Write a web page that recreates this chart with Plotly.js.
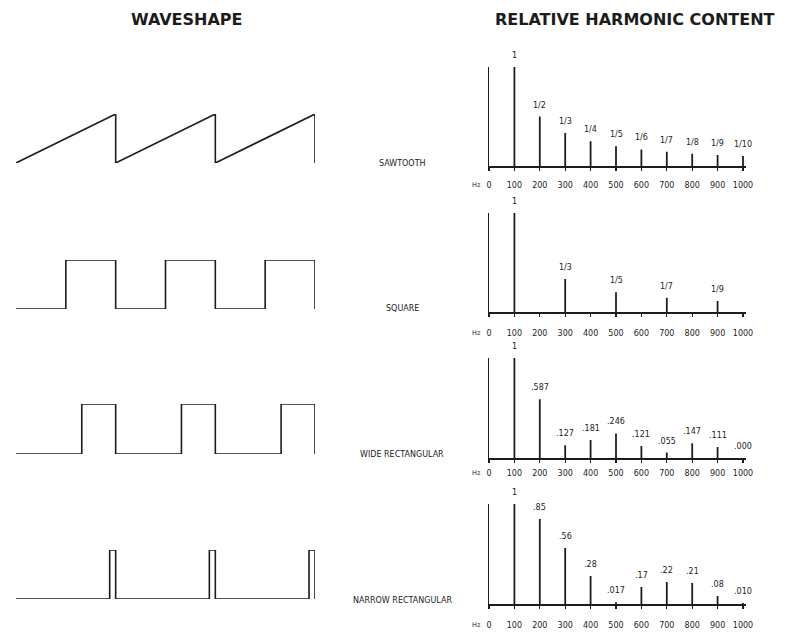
<!DOCTYPE html>
<html>
<head>
<meta charset="utf-8">
<script src="https://cdn.plot.ly/plotly-3.0.1.min.js"></script>
<style>html,body{margin:0;padding:0;background:#fff;}#chart{width:787px;height:632px;}</style>
</head>
<body>
<div id="chart"></div>
<script>
// ---- data ----
const waveNames = ["SAWTOOTH", "SQUARE", "WIDE RECTANGULAR", "NARROW RECTANGULAR"];

const sawT = [0, 1, 1, 2, 2, 3, 3];
const sawY = [0, 1, 0, 1, 0, 1, 0];
const squareT = [0, 0.5, 0.5, 1, 1, 1.5, 1.5, 2, 2, 2.5, 2.5, 3, 3];
const squareY = [0, 0, 1, 1, 0, 0, 1, 1, 0, 0, 1, 1, 0];
const wideT = [0, 0.66, 0.66, 1, 1, 1.66, 1.66, 2, 2, 2.66, 2.66, 3, 3];
const wideY = [0, 0, 1, 1, 0, 0, 1, 1, 0, 0, 1, 1, 0];
const narrowT = [0, 0.94, 0.94, 1, 1, 1.94, 1.94, 2, 2, 2.94, 2.94, 3, 3];
const narrowY = [0, 0, 1, 1, 0, 0, 1, 1, 0, 0, 1, 1, 0];

const harmonicsHz = [100, 200, 300, 400, 500, 600, 700, 800, 900, 1000];
const tickValsHz = [0, 100, 200, 300, 400, 500, 600, 700, 800, 900, 1000];
const tickTextHz = ["0", "100", "200", "300", "400", "500", "600", "700", "800", "900", "1000"];

const sawAmp = [1, 0.5, 0.333, 0.25, 0.2, 0.167, 0.143, 0.125, 0.111, 0.1];
const sawLbl = ["1", "1/2", "1/3", "1/4", "1/5", "1/6", "1/7", "1/8", "1/9", "1/10"];
const squareAmp = [1, 0, 0.333, 0, 0.2, 0, 0.143, 0, 0.111, 0];
const squareLbl = ["1", "", "1/3", "", "1/5", "", "1/7", "", "1/9", ""];
const wideAmp = [1, 0.587, 0.127, 0.181, 0.246, 0.121, 0.055, 0.147, 0.111, 0.000];
const wideLbl = ["1", ".587", ".127", ".181", ".246", ".121", ".055", ".147", ".111", ".000"];
const narrowAmp = [1, 0.85, 0.56, 0.28, 0.017, 0.17, 0.22, 0.21, 0.08, 0.010];
const narrowLbl = ["1", ".85", ".56", ".28", ".017", ".17", ".22", ".21", ".08", ".010"];

// ---- layout helpers ----
const W = 787, H = 632;
const fx = p => p / W;
const fy = p => 1 - p / H;
const INK = "#1c1c1c";
const FONT = "DejaVu Sans, Liberation Sans, Arial, sans-serif";

const waves = [[sawT, sawY], [squareT, squareY], [wideT, wideY], [narrowT, narrowY]];
const spectra = [[sawAmp, sawLbl], [squareAmp, squareLbl], [wideAmp, wideLbl], [narrowAmp, narrowLbl]];

// pixel rows: [top, bottom] for waves and spectra
const waveRows = [[114, 163], [260, 309], [404, 454], [550, 599]];
const specRows = [[67, 166], [213, 312], [358, 458], [504, 604]];
const labelStandoff = [8, 10, 4, 10];
const nameY = [163, 309, 455, 600];

const traces = [];
const layout = {
  width: W, height: H,
  margin: {l: 0, r: 0, t: 0, b: 0},
  paper_bgcolor: "#fff", plot_bgcolor: "#fff",
  showlegend: false,
  font: {family: FONT, color: INK},
  annotations: [],
};

for (let i = 0; i < 4; i++) {
  const wa = 2 * i + 1, sa = 2 * i + 2;
  const wk = wa === 1 ? "" : String(wa);
  const sk = String(sa);
  // waveform
  traces.push({
    type: "scatter", mode: "lines", x: waves[i][0], y: waves[i][1],
    xaxis: "x" + wk, yaxis: "y" + wk, cliponaxis: false,
    line: {color: INK, width: 1.6}, hoverinfo: "skip"
  });
  layout["xaxis" + wk] = {domain: [fx(16), fx(315)], range: [0, 3], visible: false, fixedrange: true, anchor: "y" + wk};
  layout["yaxis" + wk] = {domain: [fy(waveRows[i][1]), fy(waveRows[i][0])], range: [0, 1], visible: false, fixedrange: true, anchor: "x" + wk};
  layout.annotations.push({
    xref: "paper", yref: "paper", x: fx(402), y: fy(nameY[i]), text: waveNames[i],
    showarrow: false, xanchor: "center", yanchor: "middle",
    font: {size: 8, family: FONT, color: INK}
  });

  // spectrum
  traces.push({
    type: "bar", x: harmonicsHz, y: spectra[i][0], width: 7,
    xaxis: "x" + sk, yaxis: "y" + sk, marker: {color: INK, line: {width: 0}},
    hoverinfo: "skip", cliponaxis: false
  });
  layout["xaxis" + sk] = {
    domain: [fx(489), fx(489 + 1010 * 0.254)], range: [0, 1010], anchor: "y" + sk,
    showline: true, linecolor: INK, linewidth: 1.5, showgrid: false, zeroline: false,
    ticks: "outside", ticklen: 3, tickwidth: 1.3, tickcolor: INK,
    tickmode: "array", tickvals: tickValsHz, ticktext: tickTextHz,
    ticklabelstandoff: labelStandoff[i],
    tickfont: {size: 8, family: FONT, color: INK}, fixedrange: true
  };
  layout["yaxis" + sk] = {
    domain: [fy(specRows[i][1]), fy(specRows[i][0])], range: [0, 1], anchor: "x" + sk,
    showline: true, linecolor: INK, linewidth: 1.5, showgrid: false, zeroline: false,
    showticklabels: false, ticks: "", fixedrange: true
  };
  for (let j = 0; j < harmonicsHz.length; j++) {
    const t = spectra[i][1][j];
    if (!t) continue;
    layout.annotations.push({
      xref: "x" + sk, yref: "y" + sk, x: harmonicsHz[j], y: spectra[i][0][j], text: t,
      showarrow: false, xanchor: "center", yanchor: "bottom", yshift: 5,
      font: {size: 8, family: FONT, color: INK}
    });
  }
  layout.annotations.push({
    xref: "paper", yref: "paper", x: fx(476), y: fy(specRows[i][1] + 3 + labelStandoff[i] + 8),
    text: "Hz", showarrow: false, xanchor: "center", yanchor: "middle",
    font: {size: 6.5, family: FONT, color: INK}
  });
}

layout.annotations.push({
  xref: "paper", yref: "paper", x: fx(187), y: fy(19), text: "WAVESHAPE",
  showarrow: false, xanchor: "center", yanchor: "middle",
  font: {size: 16, family: FONT, color: INK, weight: 700}
});
layout.annotations.push({
  xref: "paper", yref: "paper", x: fx(635), y: fy(19), text: "RELATIVE HARMONIC CONTENT",
  showarrow: false, xanchor: "center", yanchor: "middle",
  font: {size: 16, family: FONT, color: INK, weight: 700}
});

Plotly.newPlot("chart", traces, layout, {displayModeBar: false, staticPlot: true});
</script>
</body>
</html>
